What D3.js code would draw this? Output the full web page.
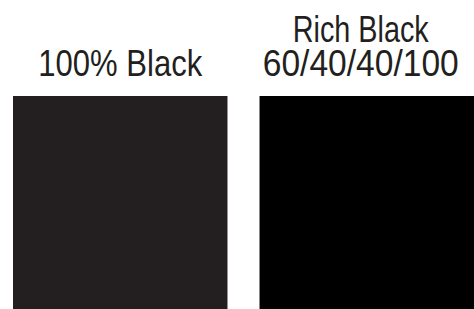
<!DOCTYPE html>
<html>
<head>
<meta charset="utf-8">
<script src="https://cdn.jsdelivr.net/npm/d3@7"></script>
<style>
  body { margin: 0; background: #fff; }
  svg { display: block; }
</style>
</head>
<body>
<svg width="474" height="309"></svg>
<script>
const svg = d3.select("svg");
const width = +svg.attr("width");
const height = +svg.attr("height");

// swatch data
const swatchNames = ["100% Black", "Rich Black"];
const labelLines = [["100% Black"], ["Rich Black", "60/40/40/100"]];
const swatchColors = ["#231f20", "#000000"];

// x position of each swatch
const x = d3.scaleBand()
    .domain(swatchNames)
    .range([13, 474])
    .paddingInner(0.13)
    .paddingOuter(0);

const swatchTop = 96;

// Draw the swatches
svg.selectAll("rect.swatch")
    .data(swatchNames)
    .enter().append("rect")
    .attr("class", "swatch")
    .attr("x", d => x(d))
    .attr("y", swatchTop)
    .attr("width", x.bandwidth())
    .attr("height", height - swatchTop)
    .attr("fill", (d, i) => swatchColors[i]);

// no condensed font here, so each line is squeezed to the width it has in the original
const lineWidths = [[164], [136, 196]];
const labelShift = [0, -6]; // labels sit a bit left of the swatch centre

const labels = svg.selectAll("g.label")
    .data(swatchNames)
    .enter().append("g")
    .attr("class", "label");

labels.each(function(d, i) {
    const lines = labelLines[i];
    const cx = x(d) + x.bandwidth() / 2 + labelShift[i];
    lines.forEach((line, j) => {
        d3.select(this).append("text")
            .attr("x", cx)
            .attr("y", 76 - (lines.length - 1 - j) * 34)
            .attr("text-anchor", "middle")
            .attr("font-family", "'Liberation Sans', Arial, sans-serif")
            .attr("font-size", 37)
            .attr("fill", "#231f20")
            .attr("textLength", lineWidths[i][j])
            .attr("lengthAdjust", "spacingAndGlyphs")
            .text(line);
    });
});
</script>
</body>
</html>
